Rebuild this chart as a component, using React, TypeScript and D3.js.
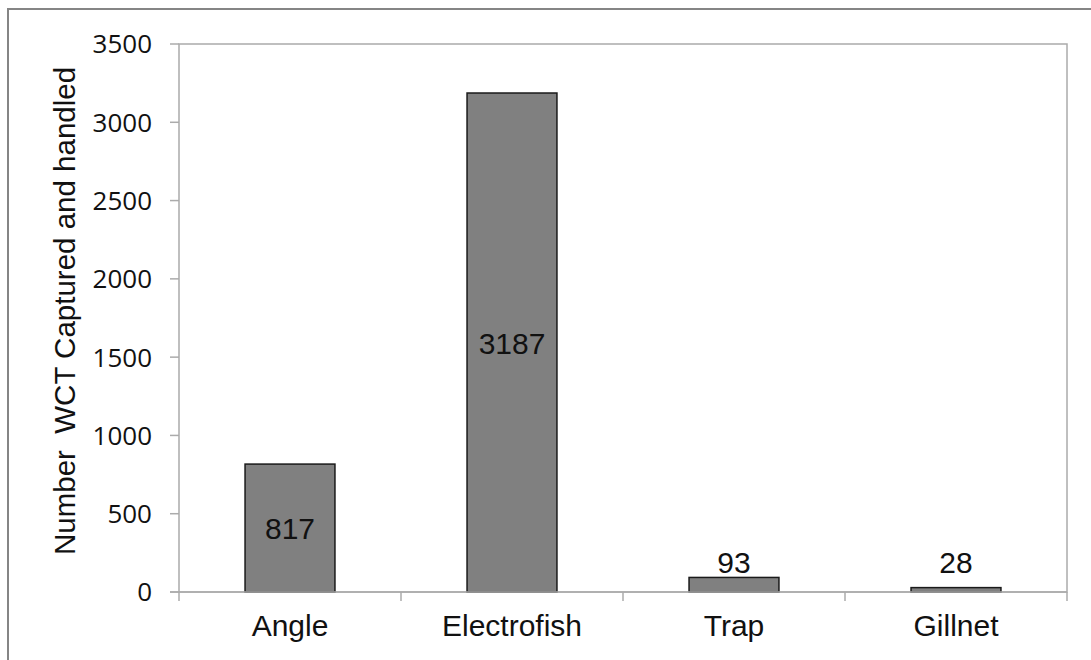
import React from 'react'
import * as d3 from 'd3';

const categories: string[] = ['Angle', 'Electrofish', 'Trap', 'Gillnet'];
const counts: number[] = [817, 3187, 93, 28];
const yTicks: number[] = [0, 500, 1000, 1500, 2000, 2500, 3000, 3500];
const yTitle = 'Number  WCT Captured and handled';

const App: React.FC = () => {
  const width = 1091;
  const height = 660;
  const left = 179;
  const right = 1067;
  const top = 44;
  const bottom = 592;

  const x = d3.scaleBand<string>()
    .domain(categories)
    .range([left, right])
    .paddingInner(0.595)
    .paddingOuter(0.2975);

  const y = d3.scaleLinear()
    .domain([0, 3500])
    .range([bottom, top]);

  const step = x.step();
  const boundaries = d3.range(categories.length + 1).map(i => left + i * step);
  const axisColor = '#ababab';
  const labelFont = '"Liberation Sans", Arial, sans-serif';

  return (
    <svg width={width} height={height} style={{ position: 'absolute', left: 0, top: 0 }}>
      <rect x={0} y={0} width={width} height={height} fill='#fff' />
      <rect x={8} y={9} width={width + 20} height={height + 20} fill='none' stroke='#858585' strokeWidth={2} />

      {/* plot frame */}
      <rect x={left} y={top} width={right - left} height={bottom - top} fill='none' stroke={axisColor} strokeWidth={1.5} />

      {/* y ticks */}
      {yTicks.map(t => (
        <g key={t}>
          <line x1={left - 9} x2={left} y1={y(t)} y2={y(t)} stroke={axisColor} strokeWidth={1.5} />
          <text
            x={left - 27}
            y={y(t)}
            dy='0.36em'
            textAnchor='end'
            fontFamily='"Open Sans", sans-serif'
            fontSize={26}
            fill='#111'
          >
            {t}
          </text>
        </g>
      ))}

      {/* x ticks */}
      {boundaries.map((b, i) => (
        <line key={i} x1={b} x2={b} y1={bottom} y2={bottom + 9} stroke={axisColor} strokeWidth={1.5} />
      ))}

      {/* bars */}
      {categories.map((c, i) => (
        <rect
          key={c}
          x={x(c)}
          y={y(counts[i])}
          width={x.bandwidth()}
          height={y(0) - y(counts[i])}
          fill='#808080'
          stroke='#1a1a1a'
          strokeWidth={1.5}
        />
      ))}

      {/* x axis line on top of bars */}
      <line x1={left - 9} x2={right} y1={bottom} y2={bottom} stroke={axisColor} strokeWidth={1.5} />

      {/* data labels */}
      {categories.map((c, i) => {
        const barH = y(0) - y(counts[i]);
        const inside = barH > 40;
        const ly = inside ? (y(counts[i]) + y(0)) / 2 + 11 : y(0) - 19;
        return (
          <text
            key={c}
            x={(x(c) as number) + x.bandwidth() / 2}
            y={ly}
            textAnchor='middle'
            fontFamily={labelFont}
            fontSize={30}
            fill='#111'
          >
            {counts[i]}
          </text>
        );
      })}

      {/* category labels */}
      {categories.map(c => (
        <text
          key={c}
          x={(x(c) as number) + x.bandwidth() / 2}
          y={636}
          textAnchor='middle'
          fontFamily={labelFont}
          fontSize={30}
          fill='#111'
        >
          {c}
        </text>
      ))}

      <text
        transform={`translate(75, 311) rotate(-90)`}
        textAnchor='middle'
        fontFamily={labelFont}
        fontSize={29.5}
        fill='#111'
        style={{ whiteSpace: 'pre' }}
      >
        {yTitle}
      </text>
    </svg>
  )
}

export default App
